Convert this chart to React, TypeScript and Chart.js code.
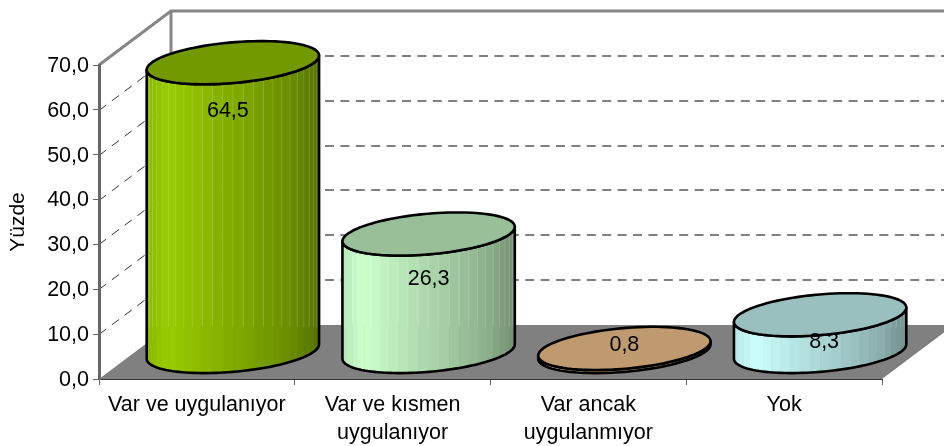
import React, { useEffect, useRef } from "react";
import { Chart, registerables, BarController } from "chart.js";

const categories = [
  ["Var ve uygulanıyor"],
  ["Var ve kısmen", "uygulanıyor"],
  ["Var ancak", "uygulanmıyor"],
  ["Yok"],
];
const values = [64.5, 26.3, 0.8, 8.3];
const yTicks = [0, 10, 20, 30, 40, 50, 60, 70];
const yTitle = "Yüzde";
const sideColors = ["#99CC00", "#CCFFCC", "#FFCC99", "#CCFFFF"];
const topColors = ["#739900", "#99BF99", "#BF9970", "#99BFBF"];

const DEPTH_X = 72;
const DEPTH_Y = 54;
const GAP = 0.8;
const FONT = "'Liberation Sans', Arial, sans-serif";
const fmt = (v: number) => v.toFixed(1).replace(".", ",");

function shade(hex: string, k: number) {
  const n = parseInt(hex.slice(1), 16);
  const c = [(n >> 16) & 255, (n >> 8) & 255, n & 255].map((v) =>
    Math.min(255, Math.round(v * k))
  );
  return `rgb(${c[0]},${c[1]},${c[2]})`;
}

function sideShade(f: number) {
  const stops: [number, number][] = [
    [0, 0.9],
    [0.12, 1.0],
    [0.35, 0.9],
    [0.6, 0.8],
    [0.85, 0.68],
    [1, 0.56],
  ];
  for (let i = 1; i < stops.length; i++) {
    if (f <= stops[i][0]) {
      const [a, ka] = stops[i - 1];
      const [b, kb] = stops[i];
      return ka + ((f - a) / (b - a)) * (kb - ka);
    }
  }
  return 0.56;
}

class CylinderController extends BarController {
  static id = "cylinder";
  draw() {
    const chart = (this as any).chart;
    const ctx: CanvasRenderingContext2D = chart.ctx;
    const meta = (this as any).getMeta();
    const nudgeY = [48, 45, -3, 27];
    const nudgeX = [-5, 0, 0, 4];
    const floorY = chart.chartArea.bottom - DEPTH_Y + 2;
    meta.data.forEach((bar: any, i: number) => {
      const cx = bar.x + DEPTH_X / 2;
      const topY = bar.y - DEPTH_Y / 2;
      const baseY = bar.base - DEPTH_Y / 2;
      const ux = bar.width / 2;
      const vx = (DEPTH_X * GAP) / 2;
      const vy = -(DEPTH_Y * GAP) / 2;
      const t0 = Math.atan2(vx, ux);
      const pt = (t: number, y: number) => [
        cx + ux * Math.cos(t) + vx * Math.sin(t),
        y + vy * Math.sin(t),
      ];
      const N = 26;
      const left = pt(t0 + Math.PI, topY)[0];
      const right = pt(t0, topY)[0];
      // facets of the side, from the left silhouette to the right one
      for (let k = 0; k < N; k++) {
        const a = t0 + Math.PI + (k / N) * Math.PI;
        const b = t0 + Math.PI + ((k + 1) / N) * Math.PI;
        const pa = pt(a, topY);
        const pb = pt(b, topY);
        const qa = pt(a, baseY);
        const qb = pt(b, baseY);
        const f = (pa[0] + pb[0]) / 2;
        const col = shade(sideColors[i], sideShade((f - left) / (right - left)));
        ctx.beginPath();
        ctx.moveTo(pa[0], pa[1]);
        ctx.lineTo(pb[0] + 0.5, pb[1]);
        ctx.lineTo(qb[0] + 0.5, qb[1]);
        ctx.lineTo(qa[0], qa[1]);
        ctx.closePath();
        ctx.fillStyle = col;
        ctx.fill();
        const lineEnd = Math.min(qa[1], floorY);
        if (k > 0 && lineEnd > pa[1]) {
          ctx.beginPath();
          ctx.moveTo(pa[0], pa[1]);
          ctx.lineTo(qa[0], lineEnd);
          ctx.strokeStyle = "rgba(255,255,255,0.14)";
          ctx.lineWidth = 1;
          ctx.stroke();
        }
      }
      // outline of the side
      ctx.beginPath();
      for (let k = 0; k <= 60; k++) {
        const p = pt(t0 + Math.PI + (k / 60) * Math.PI, baseY);
        if (k === 0) ctx.moveTo(p[0], p[1]);
        else ctx.lineTo(p[0], p[1]);
      }
      for (let k = 60; k >= 0; k--) {
        const p = pt(t0 + Math.PI + (k / 60) * Math.PI, topY);
        ctx.lineTo(p[0], p[1]);
      }
      ctx.closePath();
      ctx.strokeStyle = "#000";
      ctx.lineWidth = 2.6;
      ctx.lineJoin = "round";
      ctx.stroke();
      // top
      ctx.beginPath();
      for (let k = 0; k <= 90; k++) {
        const p = pt((k / 90) * Math.PI * 2, topY);
        if (k === 0) ctx.moveTo(p[0], p[1]);
        else ctx.lineTo(p[0], p[1]);
      }
      ctx.closePath();
      ctx.fillStyle = topColors[i];
      ctx.fill();
      ctx.stroke();
      // value label
      ctx.fillStyle = "#000";
      ctx.font = `21.5px ${FONT}`;
      ctx.textAlign = "center";
      ctx.textBaseline = "middle";
      ctx.fillText(fmt(values[i]), cx + nudgeX[i], topY + nudgeY[i]);
    });
  }
}

const wallPlugin = {
  id: "wall",
  beforeDraw(chart: any) {
    const { ctx, chartArea: a, scales } = chart;
    const y = scales.y;
    ctx.save();
    // floor
    ctx.beginPath();
    ctx.moveTo(a.left, a.bottom);
    ctx.lineTo(a.left + DEPTH_X, a.bottom - DEPTH_Y);
    ctx.lineTo(a.right + DEPTH_X, a.bottom - DEPTH_Y);
    ctx.lineTo(a.right, a.bottom);
    ctx.closePath();
    ctx.fillStyle = "#808080";
    ctx.fill();
    // dashed gridlines: side wall
    ctx.strokeStyle = "#333";
    ctx.lineWidth = 1;
    ctx.setLineDash([9, 7]);
    yTicks.slice(1, -1).forEach((v) => {
      const py = Math.round(y.getPixelForValue(v)) + 0.5;
      ctx.beginPath();
      ctx.moveTo(a.left, py);
      ctx.lineTo(a.left + DEPTH_X, py - DEPTH_Y);
      ctx.stroke();
    });
    // dashed gridlines: back wall
    ctx.strokeStyle = "#808080";
    ctx.lineWidth = 2;
    ctx.setLineDash([9, 6.4]);
    yTicks.slice(1, -1).forEach((v) => {
      const py = Math.round(y.getPixelForValue(v) - DEPTH_Y);
      ctx.beginPath();
      ctx.moveTo(a.left + DEPTH_X, py);
      ctx.lineTo(a.right + DEPTH_X, py);
      ctx.stroke();
    });
    ctx.setLineDash([]);
    // wall frame
    ctx.strokeStyle = "#868686";
    ctx.lineWidth = 3;
    ctx.beginPath();
    ctx.moveTo(a.left, a.top);
    ctx.lineTo(a.left + DEPTH_X, a.top - DEPTH_Y);
    ctx.lineTo(a.right + DEPTH_X, a.top - DEPTH_Y);
    ctx.moveTo(a.left + DEPTH_X, a.top - DEPTH_Y);
    ctx.lineTo(a.left + DEPTH_X, a.bottom - DEPTH_Y);
    ctx.stroke();
    ctx.restore();
  },
};

Chart.register(...registerables, CylinderController);

export default function App() {
  const ref = useRef<HTMLCanvasElement>(null);
  useEffect(() => {
    const chart = new Chart(ref.current!, {
      type: "cylinder" as any,
      data: {
        labels: categories as any,
        datasets: [
          {
            data: values,
            backgroundColor: sideColors,
            categoryPercentage: 1,
            barPercentage: 0.83,
            clip: false,
          } as any,
        ],
      },
      plugins: [wallPlugin],
      options: {
        responsive: false,
        animation: false,
        layout: { padding: { top: 65, right: 62, left: 0, bottom: 0 } },
        plugins: { legend: { display: false }, tooltip: { enabled: false } },
        scales: {
          x: {
            type: "category",
            offset: true,
            afterFit: (s: any) => {
              s.height = 67;
            },
            border: { color: "#333", width: 1 },
            grid: {
              drawOnChartArea: false,
              drawTicks: true,
              tickLength: 6,
              color: "#666",
              offset: true,
            },
            ticks: {
              autoSkip: false,
              maxRotation: 0,
              minRotation: 0,
              color: "#000",
              padding: 6,
              font: { family: FONT, size: 21.5, lineHeight: 1.32 },
            },
          },
          y: {
            type: "linear",
            min: 0,
            max: 70,
            afterFit: (s: any) => {
              s.width = 99;
            },
            afterBuildTicks: (s: any) => {
              s.ticks = yTicks.map((value) => ({ value }));
            },
            border: { color: "#666", width: 3 },
            grid: {
              drawOnChartArea: false,
              drawTicks: true,
              tickLength: 6,
              color: "#666",
            },
            ticks: {
              color: "#000",
              padding: 4,
              labelOffset: 1,
              font: { family: FONT, size: 21.5 },
              callback: (v: any) => fmt(Number(v)),
            },
            title: {
              display: true,
              text: yTitle,
              color: "#000",
              padding: { top: 6, bottom: 0 },
              font: { family: FONT, size: 21 },
            },
          },
        },
      } as any,
    });
    return () => chart.destroy();
  }, []);
  return (
    <div style={{ position: "fixed", left: 0, top: 0 }}>
      <canvas ref={ref} width={944} height={446} style={{ display: "block" }} />
    </div>
  );
}
